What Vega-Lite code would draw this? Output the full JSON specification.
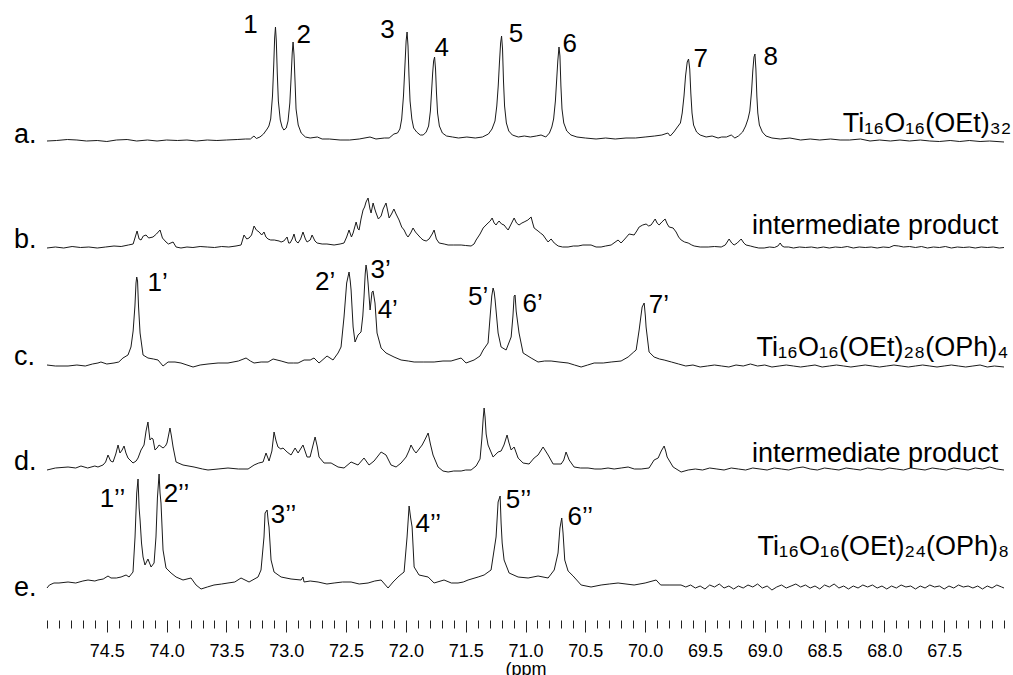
{
"$schema": "https://vega.github.io/schema/vega-lite/v6.json",
"background": "white",
"padding": {"left": 13, "top": 0, "right": 0, "bottom": 0},
"spacing": 0,
"bounds": "flush",
"config": {"view": {"stroke": null}, "font": "Liberation Sans"},
"datasets": {
"a": [
{"ppm":75.00,"signal":0},{"ppm":74.92,"signal":0.5},{"ppm":74.83,"signal":1.5},{"ppm":74.75,"signal":1},{"ppm":74.67,"signal":0},{"ppm":74.58,"signal":0.5},{"ppm":74.50,"signal":-0.5},{"ppm":74.42,"signal":1},{"ppm":74.33,"signal":1.5},{"ppm":74.25,"signal":0},{"ppm":74.16,"signal":1},{"ppm":74.08,"signal":0},{"ppm":74.00,"signal":1},{"ppm":73.91,"signal":0.5},{"ppm":73.83,"signal":1},{"ppm":73.75,"signal":0},{"ppm":73.66,"signal":1},{"ppm":73.58,"signal":0.5},{"ppm":73.50,"signal":1},{"ppm":73.41,"signal":1.5},{"ppm":73.34,"signal":2},{"ppm":73.30,"signal":2},{"ppm":73.27,"signal":5},{"ppm":73.25,"signal":2.5},{"ppm":73.22,"signal":4},{"ppm":73.19,"signal":7},{"ppm":73.16,"signal":12},{"ppm":73.145,"signal":15},{"ppm":73.13,"signal":22},{"ppm":73.115,"signal":45},{"ppm":73.105,"signal":75},{"ppm":73.097,"signal":103},{"ppm":73.09,"signal":114},{"ppm":73.083,"signal":100},{"ppm":73.075,"signal":68},{"ppm":73.066,"signal":40},{"ppm":73.05,"signal":21},{"ppm":73.035,"signal":14},{"ppm":73.02,"signal":11},{"ppm":73.00,"signal":13},{"ppm":72.985,"signal":20},{"ppm":72.97,"signal":38},{"ppm":72.96,"signal":62},{"ppm":72.95,"signal":88},{"ppm":72.943,"signal":99},{"ppm":72.935,"signal":86},{"ppm":72.926,"signal":58},{"ppm":72.918,"signal":32},{"ppm":72.90,"signal":16},{"ppm":72.875,"signal":8},{"ppm":72.84,"signal":4},{"ppm":72.80,"signal":3},{"ppm":72.74,"signal":4},{"ppm":72.70,"signal":2},{"ppm":72.64,"signal":2},{"ppm":72.55,"signal":1},{"ppm":72.47,"signal":1},{"ppm":72.39,"signal":2},{"ppm":72.30,"signal":4},{"ppm":72.25,"signal":2},{"ppm":72.18,"signal":3},{"ppm":72.14,"signal":3},{"ppm":72.10,"signal":7},{"ppm":72.07,"signal":8},{"ppm":72.05,"signal":12},{"ppm":72.035,"signal":22},{"ppm":72.02,"signal":45},{"ppm":72.008,"signal":75},{"ppm":71.998,"signal":100},{"ppm":71.99,"signal":109},{"ppm":71.982,"signal":95},{"ppm":71.974,"signal":65},{"ppm":71.965,"signal":40},{"ppm":71.95,"signal":22},{"ppm":71.935,"signal":13},{"ppm":71.91,"signal":9},{"ppm":71.88,"signal":6},{"ppm":71.855,"signal":6},{"ppm":71.83,"signal":9},{"ppm":71.81,"signal":15},{"ppm":71.795,"signal":30},{"ppm":71.785,"signal":50},{"ppm":71.776,"signal":68},{"ppm":71.768,"signal":80},{"ppm":71.76,"signal":84},{"ppm":71.752,"signal":72},{"ppm":71.744,"signal":48},{"ppm":71.735,"signal":28},{"ppm":71.72,"signal":15},{"ppm":71.695,"signal":8},{"ppm":71.66,"signal":5},{"ppm":71.61,"signal":4},{"ppm":71.56,"signal":3},{"ppm":71.49,"signal":4},{"ppm":71.42,"signal":3},{"ppm":71.36,"signal":4},{"ppm":71.31,"signal":7},{"ppm":71.28,"signal":12},{"ppm":71.255,"signal":20},{"ppm":71.24,"signal":35},{"ppm":71.228,"signal":55},{"ppm":71.218,"signal":78},{"ppm":71.208,"signal":98},{"ppm":71.20,"signal":105},{"ppm":71.192,"signal":92},{"ppm":71.184,"signal":60},{"ppm":71.175,"signal":35},{"ppm":71.16,"signal":18},{"ppm":71.14,"signal":10},{"ppm":71.11,"signal":6},{"ppm":71.06,"signal":4},{"ppm":71.01,"signal":5},{"ppm":70.96,"signal":4},{"ppm":70.91,"signal":5},{"ppm":70.87,"signal":6},{"ppm":70.83,"signal":4},{"ppm":70.80,"signal":8},{"ppm":70.78,"signal":14},{"ppm":70.765,"signal":22},{"ppm":70.75,"signal":40},{"ppm":70.74,"signal":60},{"ppm":70.73,"signal":80},{"ppm":70.72,"signal":94},{"ppm":70.712,"signal":85},{"ppm":70.704,"signal":55},{"ppm":70.695,"signal":32},{"ppm":70.68,"signal":18},{"ppm":70.655,"signal":10},{"ppm":70.62,"signal":6},{"ppm":70.57,"signal":4},{"ppm":70.50,"signal":3},{"ppm":70.41,"signal":2},{"ppm":70.33,"signal":3},{"ppm":70.25,"signal":2},{"ppm":70.16,"signal":3},{"ppm":70.08,"signal":3},{"ppm":70.00,"signal":4},{"ppm":69.92,"signal":5},{"ppm":69.86,"signal":6},{"ppm":69.81,"signal":8},{"ppm":69.79,"signal":5},{"ppm":69.76,"signal":9},{"ppm":69.73,"signal":14},{"ppm":69.705,"signal":18},{"ppm":69.69,"signal":28},{"ppm":69.675,"signal":45},{"ppm":69.662,"signal":65},{"ppm":69.648,"signal":79},{"ppm":69.637,"signal":82},{"ppm":69.627,"signal":72},{"ppm":69.618,"signal":48},{"ppm":69.608,"signal":28},{"ppm":69.595,"signal":16},{"ppm":69.57,"signal":9},{"ppm":69.54,"signal":6},{"ppm":69.49,"signal":4},{"ppm":69.44,"signal":5},{"ppm":69.39,"signal":3},{"ppm":69.36,"signal":4},{"ppm":69.32,"signal":4},{"ppm":69.28,"signal":6},{"ppm":69.25,"signal":3},{"ppm":69.22,"signal":5},{"ppm":69.185,"signal":9},{"ppm":69.16,"signal":15},{"ppm":69.14,"signal":22},{"ppm":69.125,"signal":30},{"ppm":69.11,"signal":50},{"ppm":69.10,"signal":70},{"ppm":69.09,"signal":84},{"ppm":69.082,"signal":87},{"ppm":69.074,"signal":72},{"ppm":69.066,"signal":45},{"ppm":69.058,"signal":28},{"ppm":69.045,"signal":16},{"ppm":69.02,"signal":9},{"ppm":68.99,"signal":5},{"ppm":68.94,"signal":3},{"ppm":68.87,"signal":2},{"ppm":68.79,"signal":3},{"ppm":68.70,"signal":1},{"ppm":68.62,"signal":2},{"ppm":68.54,"signal":1},{"ppm":68.45,"signal":2},{"ppm":68.37,"signal":1},{"ppm":68.29,"signal":1},{"ppm":68.20,"signal":2},{"ppm":68.12,"signal":0},{"ppm":68.04,"signal":1},{"ppm":67.95,"signal":0},{"ppm":67.87,"signal":1},{"ppm":67.79,"signal":0},{"ppm":67.70,"signal":1},{"ppm":67.62,"signal":0},{"ppm":67.54,"signal":-0.5},{"ppm":67.45,"signal":0.5},{"ppm":67.37,"signal":-0.5},{"ppm":67.29,"signal":0.5},{"ppm":67.20,"signal":-0.5},{"ppm":67.12,"signal":0},{"ppm":67.00,"signal":-1}
],
"b": [
{"ppm":75.00,"signal":-1},{"ppm":74.93,"signal":0},{"ppm":74.86,"signal":-1},{"ppm":74.79,"signal":0.5},{"ppm":74.72,"signal":-0.5},{"ppm":74.65,"signal":0},{"ppm":74.58,"signal":-1},{"ppm":74.51,"signal":0},{"ppm":74.44,"signal":1},{"ppm":74.38,"signal":0.5},{"ppm":74.32,"signal":2},{"ppm":74.28,"signal":3},{"ppm":74.247,"signal":16},{"ppm":74.23,"signal":8},{"ppm":74.214,"signal":7},{"ppm":74.195,"signal":11},{"ppm":74.172,"signal":12},{"ppm":74.15,"signal":9},{"ppm":74.114,"signal":10},{"ppm":74.085,"signal":13},{"ppm":74.055,"signal":17},{"ppm":74.035,"signal":9},{"ppm":74.005,"signal":5},{"ppm":73.985,"signal":3},{"ppm":73.946,"signal":5},{"ppm":73.921,"signal":0},{"ppm":73.88,"signal":-1},{"ppm":73.83,"signal":0},{"ppm":73.78,"signal":-0.5},{"ppm":73.72,"signal":0.5},{"ppm":73.66,"signal":0},{"ppm":73.60,"signal":-0.5},{"ppm":73.54,"signal":0.5},{"ppm":73.48,"signal":0},{"ppm":73.42,"signal":1},{"ppm":73.378,"signal":2},{"ppm":73.353,"signal":12},{"ppm":73.33,"signal":8},{"ppm":73.311,"signal":9},{"ppm":73.29,"signal":12},{"ppm":73.269,"signal":21},{"ppm":73.25,"signal":17},{"ppm":73.227,"signal":15},{"ppm":73.205,"signal":12},{"ppm":73.186,"signal":15},{"ppm":73.17,"signal":10},{"ppm":73.152,"signal":8},{"ppm":73.13,"signal":7},{"ppm":73.10,"signal":7},{"ppm":73.06,"signal":6},{"ppm":73.043,"signal":5},{"ppm":73.02,"signal":6},{"ppm":72.993,"signal":10},{"ppm":72.98,"signal":4},{"ppm":72.968,"signal":4},{"ppm":72.95,"signal":8},{"ppm":72.935,"signal":13},{"ppm":72.92,"signal":6},{"ppm":72.901,"signal":4},{"ppm":72.88,"signal":8},{"ppm":72.86,"signal":15},{"ppm":72.84,"signal":8},{"ppm":72.826,"signal":5},{"ppm":72.80,"signal":7},{"ppm":72.784,"signal":12},{"ppm":72.76,"signal":6},{"ppm":72.742,"signal":4},{"ppm":72.70,"signal":3},{"ppm":72.66,"signal":3},{"ppm":72.60,"signal":2},{"ppm":72.55,"signal":3},{"ppm":72.517,"signal":4},{"ppm":72.495,"signal":10},{"ppm":72.475,"signal":17},{"ppm":72.455,"signal":10},{"ppm":72.441,"signal":14},{"ppm":72.416,"signal":25},{"ppm":72.40,"signal":18},{"ppm":72.391,"signal":17},{"ppm":72.375,"signal":28},{"ppm":72.358,"signal":37},{"ppm":72.345,"signal":40},{"ppm":72.333,"signal":45},{"ppm":72.316,"signal":49},{"ppm":72.30,"signal":38},{"ppm":72.291,"signal":34},{"ppm":72.274,"signal":44},{"ppm":72.26,"signal":38},{"ppm":72.249,"signal":34},{"ppm":72.23,"signal":28},{"ppm":72.207,"signal":31},{"ppm":72.19,"signal":38},{"ppm":72.166,"signal":44},{"ppm":72.15,"signal":35},{"ppm":72.14,"signal":29},{"ppm":72.12,"signal":33},{"ppm":72.10,"signal":38},{"ppm":72.082,"signal":33},{"ppm":72.057,"signal":27},{"ppm":72.035,"signal":20},{"ppm":72.015,"signal":17},{"ppm":71.995,"signal":12},{"ppm":71.982,"signal":10},{"ppm":71.96,"signal":14},{"ppm":71.94,"signal":19},{"ppm":71.92,"signal":15},{"ppm":71.898,"signal":12},{"ppm":71.875,"signal":9},{"ppm":71.856,"signal":7},{"ppm":71.83,"signal":6},{"ppm":71.806,"signal":8},{"ppm":71.78,"signal":13},{"ppm":71.764,"signal":17},{"ppm":71.745,"signal":8},{"ppm":71.722,"signal":4},{"ppm":71.68,"signal":3},{"ppm":71.647,"signal":2},{"ppm":71.60,"signal":2},{"ppm":71.538,"signal":2},{"ppm":71.50,"signal":1.5},{"ppm":71.455,"signal":1},{"ppm":71.43,"signal":3},{"ppm":71.413,"signal":7},{"ppm":71.38,"signal":13},{"ppm":71.354,"signal":19},{"ppm":71.33,"signal":22},{"ppm":71.313,"signal":24},{"ppm":71.295,"signal":26},{"ppm":71.279,"signal":29},{"ppm":71.262,"signal":24},{"ppm":71.246,"signal":22},{"ppm":71.235,"signal":24},{"ppm":71.221,"signal":26},{"ppm":71.20,"signal":23},{"ppm":71.179,"signal":22},{"ppm":71.16,"signal":19},{"ppm":71.145,"signal":17},{"ppm":71.12,"signal":23},{"ppm":71.095,"signal":29},{"ppm":71.075,"signal":24},{"ppm":71.054,"signal":22},{"ppm":71.03,"signal":24},{"ppm":71.012,"signal":25},{"ppm":70.98,"signal":27},{"ppm":70.953,"signal":30},{"ppm":70.94,"signal":24},{"ppm":70.928,"signal":19},{"ppm":70.895,"signal":16},{"ppm":70.875,"signal":14},{"ppm":70.853,"signal":12},{"ppm":70.83,"signal":8},{"ppm":70.811,"signal":5},{"ppm":70.795,"signal":7},{"ppm":70.786,"signal":8},{"ppm":70.76,"signal":4},{"ppm":70.727,"signal":1},{"ppm":70.69,"signal":0},{"ppm":70.644,"signal":0},{"ppm":70.60,"signal":1},{"ppm":70.56,"signal":1},{"ppm":70.52,"signal":2},{"ppm":70.452,"signal":2},{"ppm":70.41,"signal":0},{"ppm":70.368,"signal":0},{"ppm":70.33,"signal":1},{"ppm":70.284,"signal":2},{"ppm":70.226,"signal":7},{"ppm":70.201,"signal":4},{"ppm":70.17,"signal":8},{"ppm":70.134,"signal":13},{"ppm":70.092,"signal":12},{"ppm":70.07,"signal":16},{"ppm":70.05,"signal":20},{"ppm":70.02,"signal":22},{"ppm":69.992,"signal":23},{"ppm":69.97,"signal":21},{"ppm":69.95,"signal":22},{"ppm":69.916,"signal":28},{"ppm":69.90,"signal":24},{"ppm":69.883,"signal":22},{"ppm":69.86,"signal":25},{"ppm":69.833,"signal":28},{"ppm":69.815,"signal":23},{"ppm":69.799,"signal":20},{"ppm":69.766,"signal":19},{"ppm":69.741,"signal":15},{"ppm":69.72,"signal":10},{"ppm":69.699,"signal":7},{"ppm":69.67,"signal":5},{"ppm":69.64,"signal":4},{"ppm":69.61,"signal":2},{"ppm":69.59,"signal":1},{"ppm":69.54,"signal":0},{"ppm":69.473,"signal":0},{"ppm":69.42,"signal":0.5},{"ppm":69.364,"signal":0},{"ppm":69.33,"signal":2},{"ppm":69.298,"signal":8},{"ppm":69.276,"signal":4},{"ppm":69.256,"signal":2},{"ppm":69.23,"signal":4},{"ppm":69.197,"signal":8},{"ppm":69.175,"signal":4},{"ppm":69.156,"signal":2},{"ppm":69.12,"signal":1},{"ppm":69.089,"signal":0},{"ppm":69.05,"signal":-1},{"ppm":69.005,"signal":-1},{"ppm":68.96,"signal":0},{"ppm":68.92,"signal":-0.5},{"ppm":68.89,"signal":1},{"ppm":68.871,"signal":4},{"ppm":68.855,"signal":1},{"ppm":68.838,"signal":0},{"ppm":68.80,"signal":0},{"ppm":68.76,"signal":-1},{"ppm":68.71,"signal":0},{"ppm":68.66,"signal":-0.5},{"ppm":68.61,"signal":0},{"ppm":68.56,"signal":-1},{"ppm":68.51,"signal":0},{"ppm":68.46,"signal":-1},{"ppm":68.41,"signal":0},{"ppm":68.36,"signal":-0.5},{"ppm":68.31,"signal":0.5},{"ppm":68.26,"signal":-1},{"ppm":68.21,"signal":0},{"ppm":68.16,"signal":-0.5},{"ppm":68.11,"signal":0},{"ppm":68.06,"signal":-1},{"ppm":68.01,"signal":0},{"ppm":67.96,"signal":-0.5},{"ppm":67.92,"signal":1.5},{"ppm":67.88,"signal":1},{"ppm":67.84,"signal":0},{"ppm":67.79,"signal":0.5},{"ppm":67.74,"signal":-0.5},{"ppm":67.69,"signal":0.5},{"ppm":67.64,"signal":-1},{"ppm":67.59,"signal":0},{"ppm":67.54,"signal":-0.5},{"ppm":67.49,"signal":0.5},{"ppm":67.44,"signal":-1},{"ppm":67.39,"signal":0},{"ppm":67.34,"signal":-0.5},{"ppm":67.29,"signal":0},{"ppm":67.24,"signal":-1},{"ppm":67.19,"signal":0},{"ppm":67.14,"signal":-0.5},{"ppm":67.09,"signal":0},{"ppm":67.04,"signal":-1},{"ppm":67.00,"signal":-0.5}
],
"c": [
{"ppm":75.00,"signal":1},{"ppm":74.93,"signal":0},{"ppm":74.824,"signal":0},{"ppm":74.75,"signal":1},{"ppm":74.68,"signal":0},{"ppm":74.62,"signal":2},{"ppm":74.574,"signal":3},{"ppm":74.549,"signal":4},{"ppm":74.50,"signal":2},{"ppm":74.44,"signal":3},{"ppm":74.40,"signal":4},{"ppm":74.365,"signal":8},{"ppm":74.323,"signal":11},{"ppm":74.298,"signal":19},{"ppm":74.28,"signal":35},{"ppm":74.265,"signal":60},{"ppm":74.256,"signal":83},{"ppm":74.25,"signal":89},{"ppm":74.243,"signal":85},{"ppm":74.235,"signal":60},{"ppm":74.222,"signal":33},{"ppm":74.197,"signal":11},{"ppm":74.156,"signal":8},{"ppm":74.11,"signal":7},{"ppm":74.072,"signal":6},{"ppm":74.03,"signal":0},{"ppm":73.988,"signal":4},{"ppm":73.93,"signal":4},{"ppm":73.88,"signal":3},{"ppm":73.83,"signal":1},{"ppm":73.779,"signal":-1},{"ppm":73.72,"signal":1},{"ppm":73.654,"signal":2},{"ppm":73.57,"signal":3},{"ppm":73.487,"signal":3},{"ppm":73.40,"signal":5},{"ppm":73.336,"signal":8},{"ppm":73.30,"signal":5},{"ppm":73.269,"signal":3},{"ppm":73.21,"signal":4},{"ppm":73.152,"signal":4},{"ppm":73.11,"signal":7},{"ppm":73.043,"signal":5},{"ppm":72.985,"signal":3},{"ppm":72.94,"signal":3},{"ppm":72.901,"signal":3},{"ppm":72.851,"signal":6},{"ppm":72.80,"signal":6},{"ppm":72.768,"signal":8},{"ppm":72.726,"signal":3},{"ppm":72.659,"signal":10},{"ppm":72.609,"signal":6},{"ppm":72.567,"signal":13},{"ppm":72.542,"signal":19},{"ppm":72.517,"signal":49},{"ppm":72.495,"signal":83},{"ppm":72.475,"signal":94},{"ppm":72.465,"signal":85},{"ppm":72.458,"signal":76},{"ppm":72.441,"signal":39},{"ppm":72.425,"signal":24},{"ppm":72.40,"signal":31},{"ppm":72.375,"signal":34},{"ppm":72.36,"signal":50},{"ppm":72.35,"signal":69},{"ppm":72.34,"signal":92},{"ppm":72.333,"signal":101},{"ppm":72.325,"signal":95},{"ppm":72.316,"signal":83},{"ppm":72.299,"signal":56},{"ppm":72.283,"signal":74},{"ppm":72.274,"signal":75},{"ppm":72.258,"signal":63},{"ppm":72.241,"signal":33},{"ppm":72.207,"signal":18},{"ppm":72.166,"signal":13},{"ppm":72.099,"signal":9},{"ppm":72.04,"signal":6},{"ppm":71.98,"signal":5},{"ppm":71.931,"signal":4},{"ppm":71.85,"signal":4},{"ppm":71.764,"signal":4},{"ppm":71.69,"signal":5},{"ppm":71.622,"signal":5},{"ppm":71.538,"signal":8},{"ppm":71.497,"signal":3},{"ppm":71.43,"signal":6},{"ppm":71.38,"signal":10},{"ppm":71.354,"signal":16},{"ppm":71.313,"signal":23},{"ppm":71.296,"signal":49},{"ppm":71.282,"signal":70},{"ppm":71.271,"signal":78},{"ppm":71.262,"signal":74},{"ppm":71.254,"signal":66},{"ppm":71.229,"signal":33},{"ppm":71.204,"signal":19},{"ppm":71.162,"signal":16},{"ppm":71.12,"signal":29},{"ppm":71.105,"signal":50},{"ppm":71.095,"signal":70},{"ppm":71.087,"signal":71},{"ppm":71.078,"signal":55},{"ppm":71.054,"signal":33},{"ppm":71.02,"signal":13},{"ppm":70.953,"signal":8},{"ppm":70.895,"signal":4},{"ppm":70.84,"signal":5},{"ppm":70.786,"signal":5},{"ppm":70.72,"signal":4},{"ppm":70.644,"signal":3},{"ppm":70.59,"signal":1},{"ppm":70.535,"signal":-1},{"ppm":70.48,"signal":1},{"ppm":70.426,"signal":3},{"ppm":70.35,"signal":3},{"ppm":70.284,"signal":4},{"ppm":70.201,"signal":5},{"ppm":70.142,"signal":9},{"ppm":70.095,"signal":14},{"ppm":70.075,"signal":16},{"ppm":70.05,"signal":36},{"ppm":70.035,"signal":50},{"ppm":70.025,"signal":59},{"ppm":70.008,"signal":63},{"ppm":69.998,"signal":50},{"ppm":69.992,"signal":39},{"ppm":69.967,"signal":14},{"ppm":69.925,"signal":9},{"ppm":69.88,"signal":7},{"ppm":69.841,"signal":6},{"ppm":69.78,"signal":4},{"ppm":69.72,"signal":2},{"ppm":69.66,"signal":0},{"ppm":69.60,"signal":1},{"ppm":69.54,"signal":-1},{"ppm":69.48,"signal":0},{"ppm":69.42,"signal":1},{"ppm":69.36,"signal":0},{"ppm":69.30,"signal":-1},{"ppm":69.24,"signal":1},{"ppm":69.18,"signal":0},{"ppm":69.12,"signal":2},{"ppm":69.06,"signal":0},{"ppm":69.00,"signal":1},{"ppm":68.94,"signal":-1},{"ppm":68.88,"signal":0},{"ppm":68.82,"signal":1},{"ppm":68.76,"signal":0},{"ppm":68.70,"signal":-1},{"ppm":68.64,"signal":0},{"ppm":68.58,"signal":1},{"ppm":68.52,"signal":-1},{"ppm":68.46,"signal":0},{"ppm":68.40,"signal":1},{"ppm":68.34,"signal":0},{"ppm":68.28,"signal":-1},{"ppm":68.22,"signal":0},{"ppm":68.16,"signal":1},{"ppm":68.10,"signal":0},{"ppm":68.04,"signal":-1},{"ppm":67.98,"signal":0},{"ppm":67.92,"signal":1},{"ppm":67.86,"signal":0},{"ppm":67.80,"signal":-1},{"ppm":67.74,"signal":0},{"ppm":67.68,"signal":1},{"ppm":67.62,"signal":0},{"ppm":67.56,"signal":-1},{"ppm":67.50,"signal":0},{"ppm":67.44,"signal":1},{"ppm":67.38,"signal":0},{"ppm":67.32,"signal":-1},{"ppm":67.26,"signal":0},{"ppm":67.20,"signal":1},{"ppm":67.14,"signal":-1},{"ppm":67.08,"signal":0},{"ppm":67.00,"signal":-1}
],
"d": [
{"ppm":75.00,"signal":-1},{"ppm":74.93,"signal":1},{"ppm":74.824,"signal":2},{"ppm":74.76,"signal":1},{"ppm":74.716,"signal":3},{"ppm":74.66,"signal":1},{"ppm":74.60,"signal":3},{"ppm":74.574,"signal":2},{"ppm":74.532,"signal":4},{"ppm":74.51,"signal":7},{"ppm":74.49,"signal":14},{"ppm":74.468,"signal":8},{"ppm":74.448,"signal":7},{"ppm":74.425,"signal":15},{"ppm":74.406,"signal":24},{"ppm":74.39,"signal":16},{"ppm":74.372,"signal":19},{"ppm":74.356,"signal":23},{"ppm":74.34,"signal":16},{"ppm":74.323,"signal":11},{"ppm":74.281,"signal":6},{"ppm":74.255,"signal":8},{"ppm":74.239,"signal":11},{"ppm":74.214,"signal":19},{"ppm":74.189,"signal":24},{"ppm":74.172,"signal":38},{"ppm":74.156,"signal":47},{"ppm":74.148,"signal":38},{"ppm":74.139,"signal":29},{"ppm":74.125,"signal":31},{"ppm":74.114,"signal":30},{"ppm":74.097,"signal":19},{"ppm":74.08,"signal":21},{"ppm":74.063,"signal":24},{"ppm":74.03,"signal":21},{"ppm":74.01,"signal":23},{"ppm":73.997,"signal":26},{"ppm":73.985,"signal":33},{"ppm":73.972,"signal":41},{"ppm":73.96,"signal":33},{"ppm":73.946,"signal":22},{"ppm":73.921,"signal":7},{"ppm":73.863,"signal":4},{"ppm":73.771,"signal":2},{"ppm":73.70,"signal":0},{"ppm":73.654,"signal":-1},{"ppm":73.57,"signal":0},{"ppm":73.487,"signal":1},{"ppm":73.40,"signal":0},{"ppm":73.319,"signal":0},{"ppm":73.269,"signal":4},{"ppm":73.23,"signal":6},{"ppm":73.194,"signal":7},{"ppm":73.169,"signal":16},{"ppm":73.144,"signal":8},{"ppm":73.12,"signal":18},{"ppm":73.102,"signal":37},{"ppm":73.085,"signal":28},{"ppm":73.069,"signal":22},{"ppm":73.045,"signal":20},{"ppm":73.027,"signal":21},{"ppm":72.993,"signal":17},{"ppm":72.96,"signal":14},{"ppm":72.926,"signal":21},{"ppm":72.901,"signal":16},{"ppm":72.86,"signal":24},{"ppm":72.826,"signal":12},{"ppm":72.801,"signal":12},{"ppm":72.78,"signal":22},{"ppm":72.759,"signal":32},{"ppm":72.74,"signal":22},{"ppm":72.726,"signal":12},{"ppm":72.684,"signal":6},{"ppm":72.625,"signal":6},{"ppm":72.567,"signal":2},{"ppm":72.517,"signal":1},{"ppm":72.458,"signal":7},{"ppm":72.40,"signal":4},{"ppm":72.35,"signal":11},{"ppm":72.308,"signal":4},{"ppm":72.266,"signal":8},{"ppm":72.207,"signal":17},{"ppm":72.166,"signal":14},{"ppm":72.124,"signal":4},{"ppm":72.082,"signal":2},{"ppm":72.04,"signal":6},{"ppm":71.998,"signal":12},{"ppm":71.975,"signal":18},{"ppm":71.957,"signal":24},{"ppm":71.935,"signal":19},{"ppm":71.915,"signal":16},{"ppm":71.864,"signal":24},{"ppm":71.838,"signal":30},{"ppm":71.814,"signal":36},{"ppm":71.795,"signal":25},{"ppm":71.773,"signal":14},{"ppm":71.731,"signal":2},{"ppm":71.69,"signal":-2},{"ppm":71.647,"signal":-3},{"ppm":71.60,"signal":-2},{"ppm":71.538,"signal":-2},{"ppm":71.50,"signal":-1},{"ppm":71.455,"signal":-1},{"ppm":71.413,"signal":3},{"ppm":71.38,"signal":10},{"ppm":71.365,"signal":30},{"ppm":71.354,"signal":50},{"ppm":71.346,"signal":61},{"ppm":71.338,"signal":52},{"ppm":71.329,"signal":35},{"ppm":71.313,"signal":24},{"ppm":71.271,"signal":12},{"ppm":71.229,"signal":17},{"ppm":71.204,"signal":18},{"ppm":71.18,"signal":24},{"ppm":71.154,"signal":34},{"ppm":71.14,"signal":27},{"ppm":71.12,"signal":19},{"ppm":71.095,"signal":22},{"ppm":71.062,"signal":11},{"ppm":71.02,"signal":6},{"ppm":70.97,"signal":5},{"ppm":70.928,"signal":11},{"ppm":70.895,"signal":14},{"ppm":70.853,"signal":22},{"ppm":70.811,"signal":14},{"ppm":70.769,"signal":5},{"ppm":70.702,"signal":5},{"ppm":70.68,"signal":9},{"ppm":70.661,"signal":17},{"ppm":70.635,"signal":9},{"ppm":70.594,"signal":2},{"ppm":70.54,"signal":1},{"ppm":70.477,"signal":1},{"ppm":70.42,"signal":0},{"ppm":70.368,"signal":0},{"ppm":70.31,"signal":1},{"ppm":70.259,"signal":0},{"ppm":70.20,"signal":1},{"ppm":70.142,"signal":2},{"ppm":70.09,"signal":0},{"ppm":70.033,"signal":0},{"ppm":69.967,"signal":1},{"ppm":69.925,"signal":9},{"ppm":69.891,"signal":11},{"ppm":69.865,"signal":18},{"ppm":69.841,"signal":23},{"ppm":69.828,"signal":18},{"ppm":69.816,"signal":12},{"ppm":69.766,"signal":2},{"ppm":69.699,"signal":-3},{"ppm":69.64,"signal":-1},{"ppm":69.58,"signal":0},{"ppm":69.52,"signal":-1},{"ppm":69.46,"signal":1},{"ppm":69.40,"signal":0},{"ppm":69.34,"signal":-1},{"ppm":69.28,"signal":1},{"ppm":69.22,"signal":0},{"ppm":69.16,"signal":-1},{"ppm":69.10,"signal":1},{"ppm":69.04,"signal":0},{"ppm":68.98,"signal":-1},{"ppm":68.92,"signal":1},{"ppm":68.86,"signal":0},{"ppm":68.80,"signal":-1},{"ppm":68.74,"signal":1},{"ppm":68.68,"signal":2},{"ppm":68.62,"signal":0},{"ppm":68.56,"signal":-1},{"ppm":68.50,"signal":1},{"ppm":68.44,"signal":0},{"ppm":68.38,"signal":-1},{"ppm":68.32,"signal":1},{"ppm":68.26,"signal":0},{"ppm":68.20,"signal":-1},{"ppm":68.14,"signal":1},{"ppm":68.08,"signal":0},{"ppm":68.02,"signal":-1},{"ppm":67.96,"signal":1},{"ppm":67.90,"signal":0},{"ppm":67.84,"signal":-1},{"ppm":67.78,"signal":1},{"ppm":67.72,"signal":0},{"ppm":67.66,"signal":-1},{"ppm":67.60,"signal":1},{"ppm":67.54,"signal":0},{"ppm":67.48,"signal":-1},{"ppm":67.42,"signal":1},{"ppm":67.36,"signal":0},{"ppm":67.30,"signal":-1},{"ppm":67.24,"signal":1},{"ppm":67.18,"signal":0},{"ppm":67.12,"signal":2},{"ppm":67.06,"signal":0},{"ppm":67.00,"signal":-1}
],
"e": [
{"ppm":75.00,"signal":0},{"ppm":74.98,"signal":3},{"ppm":74.942,"signal":5},{"ppm":74.90,"signal":5},{"ppm":74.824,"signal":6},{"ppm":74.76,"signal":5},{"ppm":74.70,"signal":7},{"ppm":74.657,"signal":8},{"ppm":74.60,"signal":7},{"ppm":74.574,"signal":8},{"ppm":74.53,"signal":9},{"ppm":74.49,"signal":12},{"ppm":74.465,"signal":10},{"ppm":74.42,"signal":10},{"ppm":74.381,"signal":11},{"ppm":74.339,"signal":13},{"ppm":74.314,"signal":11},{"ppm":74.281,"signal":16},{"ppm":74.264,"signal":51},{"ppm":74.25,"signal":95},{"ppm":74.239,"signal":109},{"ppm":74.23,"signal":80},{"ppm":74.222,"signal":68},{"ppm":74.21,"signal":45},{"ppm":74.197,"signal":31},{"ppm":74.181,"signal":23},{"ppm":74.156,"signal":29},{"ppm":74.13,"signal":21},{"ppm":74.105,"signal":25},{"ppm":74.089,"signal":51},{"ppm":74.077,"signal":90},{"ppm":74.063,"signal":114},{"ppm":74.055,"signal":95},{"ppm":74.047,"signal":85},{"ppm":74.03,"signal":38},{"ppm":74.005,"signal":20},{"ppm":73.963,"signal":15},{"ppm":73.921,"signal":11},{"ppm":73.863,"signal":8},{"ppm":73.796,"signal":10},{"ppm":73.754,"signal":3},{"ppm":73.712,"signal":-1},{"ppm":73.66,"signal":1},{"ppm":73.604,"signal":3},{"ppm":73.54,"signal":4},{"ppm":73.487,"signal":5},{"ppm":73.43,"signal":6},{"ppm":73.378,"signal":10},{"ppm":73.311,"signal":6},{"ppm":73.236,"signal":11},{"ppm":73.211,"signal":18},{"ppm":73.186,"signal":51},{"ppm":73.177,"signal":75},{"ppm":73.16,"signal":78},{"ppm":73.15,"signal":66},{"ppm":73.144,"signal":61},{"ppm":73.127,"signal":28},{"ppm":73.102,"signal":16},{"ppm":73.043,"signal":11},{"ppm":72.96,"signal":9},{"ppm":72.876,"signal":8},{"ppm":72.86,"signal":11},{"ppm":72.851,"signal":6},{"ppm":72.80,"signal":7},{"ppm":72.734,"signal":6},{"ppm":72.66,"signal":4},{"ppm":72.60,"signal":5},{"ppm":72.53,"signal":6},{"ppm":72.458,"signal":6},{"ppm":72.39,"signal":4},{"ppm":72.316,"signal":5},{"ppm":72.26,"signal":7},{"ppm":72.207,"signal":8},{"ppm":72.149,"signal":0},{"ppm":72.107,"signal":6},{"ppm":72.057,"signal":12},{"ppm":72.015,"signal":16},{"ppm":71.99,"signal":51},{"ppm":71.973,"signal":82},{"ppm":71.96,"signal":70},{"ppm":71.948,"signal":61},{"ppm":71.931,"signal":21},{"ppm":71.89,"signal":13},{"ppm":71.814,"signal":11},{"ppm":71.764,"signal":5},{"ppm":71.681,"signal":8},{"ppm":71.62,"signal":5},{"ppm":71.564,"signal":5},{"ppm":71.52,"signal":6},{"ppm":71.48,"signal":8},{"ppm":71.396,"signal":11},{"ppm":71.346,"signal":13},{"ppm":71.288,"signal":18},{"ppm":71.246,"signal":51},{"ppm":71.229,"signal":86},{"ppm":71.212,"signal":92},{"ppm":71.204,"signal":65},{"ppm":71.195,"signal":45},{"ppm":71.179,"signal":28},{"ppm":71.137,"signal":15},{"ppm":71.062,"signal":11},{"ppm":70.978,"signal":10},{"ppm":70.895,"signal":12},{"ppm":70.811,"signal":10},{"ppm":70.76,"signal":18},{"ppm":70.728,"signal":35},{"ppm":70.712,"signal":60},{"ppm":70.697,"signal":70},{"ppm":70.686,"signal":55},{"ppm":70.672,"signal":28},{"ppm":70.644,"signal":17},{"ppm":70.602,"signal":12},{"ppm":70.535,"signal":3},{"ppm":70.452,"signal":1},{"ppm":70.368,"signal":3},{"ppm":70.30,"signal":4},{"ppm":70.226,"signal":5},{"ppm":70.16,"signal":4},{"ppm":70.092,"signal":3},{"ppm":70.00,"signal":5},{"ppm":69.908,"signal":8},{"ppm":69.87,"signal":3},{"ppm":69.80,"signal":3},{"ppm":69.70,"signal":3},{"ppm":69.66,"signal":1},{"ppm":69.62,"signal":3},{"ppm":69.58,"signal":0},{"ppm":69.54,"signal":2},{"ppm":69.50,"signal":-1},{"ppm":69.46,"signal":3},{"ppm":69.42,"signal":1},{"ppm":69.38,"signal":4},{"ppm":69.34,"signal":0},{"ppm":69.30,"signal":2},{"ppm":69.26,"signal":-1},{"ppm":69.22,"signal":2},{"ppm":69.18,"signal":0},{"ppm":69.14,"signal":3},{"ppm":69.10,"signal":1},{"ppm":69.06,"signal":4},{"ppm":69.02,"signal":0},{"ppm":68.98,"signal":2},{"ppm":68.94,"signal":-2},{"ppm":68.90,"signal":1},{"ppm":68.86,"signal":3},{"ppm":68.82,"signal":0},{"ppm":68.78,"signal":2},{"ppm":68.74,"signal":4},{"ppm":68.70,"signal":1},{"ppm":68.66,"signal":3},{"ppm":68.62,"signal":0},{"ppm":68.58,"signal":2},{"ppm":68.54,"signal":-1},{"ppm":68.50,"signal":3},{"ppm":68.46,"signal":1},{"ppm":68.42,"signal":4},{"ppm":68.38,"signal":0},{"ppm":68.34,"signal":2},{"ppm":68.30,"signal":-1},{"ppm":68.26,"signal":2},{"ppm":68.22,"signal":0},{"ppm":68.18,"signal":3},{"ppm":68.14,"signal":1},{"ppm":68.10,"signal":3},{"ppm":68.06,"signal":0},{"ppm":68.02,"signal":2},{"ppm":67.98,"signal":-1},{"ppm":67.94,"signal":2},{"ppm":67.90,"signal":0},{"ppm":67.86,"signal":3},{"ppm":67.82,"signal":1},{"ppm":67.78,"signal":2},{"ppm":67.74,"signal":-1},{"ppm":67.70,"signal":2},{"ppm":67.66,"signal":0},{"ppm":67.62,"signal":3},{"ppm":67.58,"signal":1},{"ppm":67.54,"signal":2},{"ppm":67.50,"signal":-1},{"ppm":67.46,"signal":2},{"ppm":67.42,"signal":0},{"ppm":67.38,"signal":3},{"ppm":67.34,"signal":1},{"ppm":67.30,"signal":2},{"ppm":67.26,"signal":0},{"ppm":67.22,"signal":2},{"ppm":67.18,"signal":-1},{"ppm":67.14,"signal":2},{"ppm":67.10,"signal":0},{"ppm":67.06,"signal":3},{"ppm":67.02,"signal":1},{"ppm":67.00,"signal":0}
],
"peakLabels": [
{"trace":"a","ppm":73.360,"signal":108,"label":"1"},{"trace":"a","ppm":72.915,"signal":98,"label":"2"},{"trace":"a","ppm":72.215,"signal":103,"label":"3"},{"trace":"a","ppm":71.760,"signal":85,"label":"4"},{"trace":"a","ppm":71.140,"signal":99,"label":"5"},{"trace":"a","ppm":70.690,"signal":89,"label":"6"},{"trace":"a","ppm":69.595,"signal":74,"label":"7"},{"trace":"a","ppm":69.010,"signal":76,"label":"8"},
{"trace":"c","ppm":74.160,"signal":75,"label":"1’"},{"trace":"c","ppm":72.760,"signal":76,"label":"2’"},{"trace":"c","ppm":72.295,"signal":88,"label":"3’"},{"trace":"c","ppm":72.236,"signal":48,"label":"4’"},{"trace":"c","ppm":71.480,"signal":61,"label":"5’"},{"trace":"c","ppm":71.025,"signal":54,"label":"6’"},{"trace":"c","ppm":69.970,"signal":53,"label":"7’"},
{"trace":"e","ppm":74.560,"signal":81,"label":"1’’"},{"trace":"e","ppm":74.025,"signal":86,"label":"2’’"},{"trace":"e","ppm":73.130,"signal":65,"label":"3’’"},{"trace":"e","ppm":71.920,"signal":56,"label":"4’’"},{"trace":"e","ppm":71.165,"signal":80,"label":"5’’"},{"trace":"e","ppm":70.648,"signal":63,"label":"6’’"}
],
"rowLabels": [
{"trace":"a","ppm":75.276,"signal":-2,"label":"a."},{"trace":"b","ppm":75.276,"signal":-1,"label":"b."},{"trace":"c","ppm":75.276,"signal":1,"label":"c."},{"trace":"d","ppm":75.276,"signal":-1,"label":"d."},{"trace":"e","ppm":75.276,"signal":-8,"label":"e."}
],
"sampleNames": [
{"trace":"a","ppm":66.940,"signal":9,"label":"Ti₁₆O₁₆(OEt)₃₂"},{"trace":"b","ppm":67.049,"signal":13,"label":"intermediate product"},{"trace":"c","ppm":66.965,"signal":10,"label":"Ti₁₆O₁₆(OEt)₂₈(OPh)₄"},{"trace":"d","ppm":67.049,"signal":7,"label":"intermediate product"},{"trace":"e","ppm":66.956,"signal":33,"label":"Ti₁₆O₁₆(OEt)₂₄(OPh)₈"}
]
},
"vconcat": [
{
"width": 957, "height": 155,
"encoding": {
"x": {"field": "ppm", "type": "quantitative", "scale": {"domain": [67, 75], "reverse": true, "nice": false, "zero": false}, "axis": null},
"y": {"field": "signal", "type": "quantitative", "scale": {"domain": [-14, 141], "nice": false, "zero": false}, "axis": null}
},
"layer": [
{"data": {"name": "a"}, "mark": {"type": "line", "color": "#1a1a1a", "strokeWidth": 1}},
{"data": {"name": "peakLabels"}, "transform": [{"filter": "datum.trace === 'a'"}], "mark": {"type": "text", "align": "left", "baseline": "alphabetic", "fontSize": 26, "color": "black"}, "encoding": {"text": {"field": "label"}}},
{"data": {"name": "rowLabels"}, "transform": [{"filter": "datum.trace === 'a'"}], "mark": {"type": "text", "align": "left", "baseline": "alphabetic", "fontSize": 27, "color": "black"}, "encoding": {"text": {"field": "label"}}},
{"data": {"name": "sampleNames"}, "transform": [{"filter": "datum.trace === 'a'"}], "mark": {"type": "text", "align": "right", "baseline": "alphabetic", "fontSize": 27, "color": "black"}, "encoding": {"text": {"field": "label"}}}
]
},
{
"width": 957, "height": 105,
"encoding": {
"x": {"field": "ppm", "type": "quantitative", "scale": {"domain": [67, 75], "reverse": true, "nice": false, "zero": false}, "axis": null},
"y": {"field": "signal", "type": "quantitative", "scale": {"domain": [-13, 92], "nice": false, "zero": false}, "axis": null}
},
"layer": [
{"data": {"name": "b"}, "mark": {"type": "line", "color": "#1a1a1a", "strokeWidth": 1}},
{"data": {"name": "rowLabels"}, "transform": [{"filter": "datum.trace === 'b'"}], "mark": {"type": "text", "align": "left", "baseline": "alphabetic", "fontSize": 27, "color": "black"}, "encoding": {"text": {"field": "label"}}},
{"data": {"name": "sampleNames"}, "transform": [{"filter": "datum.trace === 'b'"}], "mark": {"type": "text", "align": "right", "baseline": "alphabetic", "fontSize": 27, "color": "black"}, "encoding": {"text": {"field": "label"}}}
]
},
{
"width": 957, "height": 120,
"encoding": {
"x": {"field": "ppm", "type": "quantitative", "scale": {"domain": [67, 75], "reverse": true, "nice": false, "zero": false}, "axis": null},
"y": {"field": "signal", "type": "quantitative", "scale": {"domain": [-14, 106], "nice": false, "zero": false}, "axis": null}
},
"layer": [
{"data": {"name": "c"}, "mark": {"type": "line", "color": "#1a1a1a", "strokeWidth": 1}},
{"data": {"name": "peakLabels"}, "transform": [{"filter": "datum.trace === 'c'"}], "mark": {"type": "text", "align": "left", "baseline": "alphabetic", "fontSize": 26, "color": "black"}, "encoding": {"text": {"field": "label"}}},
{"data": {"name": "rowLabels"}, "transform": [{"filter": "datum.trace === 'c'"}], "mark": {"type": "text", "align": "left", "baseline": "alphabetic", "fontSize": 27, "color": "black"}, "encoding": {"text": {"field": "label"}}},
{"data": {"name": "sampleNames"}, "transform": [{"filter": "datum.trace === 'c'"}], "mark": {"type": "text", "align": "right", "baseline": "alphabetic", "fontSize": 27, "color": "black"}, "encoding": {"text": {"field": "label"}}}
]
},
{
"width": 957, "height": 102,
"encoding": {
"x": {"field": "ppm", "type": "quantitative", "scale": {"domain": [67, 75], "reverse": true, "nice": false, "zero": false}, "axis": null},
"y": {"field": "signal", "type": "quantitative", "scale": {"domain": [-13, 89], "nice": false, "zero": false}, "axis": null}
},
"layer": [
{"data": {"name": "d"}, "mark": {"type": "line", "color": "#1a1a1a", "strokeWidth": 1}},
{"data": {"name": "rowLabels"}, "transform": [{"filter": "datum.trace === 'd'"}], "mark": {"type": "text", "align": "left", "baseline": "alphabetic", "fontSize": 27, "color": "black"}, "encoding": {"text": {"field": "label"}}},
{"data": {"name": "sampleNames"}, "transform": [{"filter": "datum.trace === 'd'"}], "mark": {"type": "text", "align": "right", "baseline": "alphabetic", "fontSize": 27, "color": "black"}, "encoding": {"text": {"field": "label"}}}
]
},
{
"width": 957, "height": 138,
"encoding": {
"x": {"field": "ppm", "type": "quantitative", "scale": {"domain": [67, 75], "reverse": true, "nice": false, "zero": false},
 "axis": {
  "values": [67,67.1,67.2,67.3,67.4,67.5,67.6,67.7,67.8,67.9,68,68.1,68.2,68.3,68.4,68.5,68.6,68.7,68.8,68.9,69,69.1,69.2,69.3,69.4,69.5,69.6,69.7,69.8,69.9,70,70.1,70.2,70.3,70.4,70.5,70.6,70.7,70.8,70.9,71,71.1,71.2,71.3,71.4,71.5,71.6,71.7,71.8,71.9,72,72.1,72.2,72.3,72.4,72.5,72.6,72.7,72.8,72.9,73,73.1,73.2,73.3,73.4,73.5,73.6,73.7,73.8,73.9,74,74.1,74.2,74.3,74.4,74.5,74.6,74.7,74.8,74.9,75],
  "domain": false, "grid": false,
  "tickColor": "#222", "tickWidth": 1,
  "tickSize": {"condition": {"test": "abs(datum.value*2 - round(datum.value*2)) < 0.01 && datum.value > 67.2 && datum.value < 74.8", "value": 12}, "value": 8},
  "labelExpr": "(abs(datum.value*2 - round(datum.value*2)) < 0.01 && datum.value > 67.2 && datum.value < 74.8) ? format(datum.value, '.1f') : ''",
  "labelOverlap": false, "labelFlush": false,
  "labelFontSize": 18, "labelColor": "black", "labelPadding": 10, "labelFont": "Liberation Sans",
  "title": "(ppm", "titleFontSize": 18, "titleFontWeight": "normal", "titleColor": "black", "titlePadding": 0, "titleFont": "Liberation Sans"
 }},
"y": {"field": "signal", "type": "quantitative", "scale": {"domain": [-32, 106], "nice": false, "zero": false}, "axis": null}
},
"layer": [
{"data": {"name": "e"}, "mark": {"type": "line", "color": "#1a1a1a", "strokeWidth": 1}},
{"data": {"name": "peakLabels"}, "transform": [{"filter": "datum.trace === 'e'"}], "mark": {"type": "text", "align": "left", "baseline": "alphabetic", "fontSize": 26, "color": "black"}, "encoding": {"text": {"field": "label"}}},
{"data": {"name": "rowLabels"}, "transform": [{"filter": "datum.trace === 'e'"}], "mark": {"type": "text", "align": "left", "baseline": "alphabetic", "fontSize": 27, "color": "black"}, "encoding": {"text": {"field": "label"}}},
{"data": {"name": "sampleNames"}, "transform": [{"filter": "datum.trace === 'e'"}], "mark": {"type": "text", "align": "right", "baseline": "alphabetic", "fontSize": 27, "color": "black"}, "encoding": {"text": {"field": "label"}}}
]
}
]
}
